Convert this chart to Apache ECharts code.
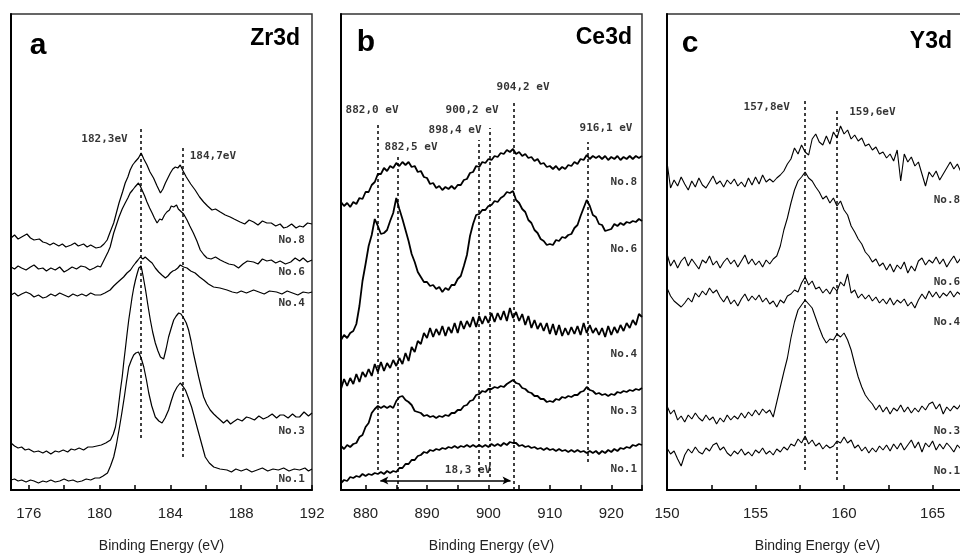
<!DOCTYPE html>
<html>
<head>
<meta charset="utf-8">
<script src="https://cdn.jsdelivr.net/npm/echarts@6/dist/echarts.min.js"></script>
<style>
  html, body { margin: 0; padding: 0; background: #fff; }
  #chart { width: 960px; height: 556px; }
</style>
</head>
<body>
<div id="chart"></div>
<script>
// ---------- Zr3d spectra: [binding energy (eV), intensity (a.u.)] ----------
const zr3d_no8 = [[175.0,252],[175.2,255],[175.4,251],[175.6,253],[175.9,256],[176.1,252],[176.3,250],[176.6,251],[176.8,248],[177.0,247],[177.2,245],[177.4,247],[177.7,244],[177.9,246],[178.1,243],[178.4,245],[178.6,247],[178.8,244],[179.1,246],[179.3,243],[179.5,245],[179.8,242],[180.06,243],[180.25,246],[180.43,250],[180.6,258],[180.8,267],[180.95,277],[181.1,287],[181.3,298],[181.45,307],[181.6,313],[181.73,320],[181.87,325],[182.0,328],[182.1,327],[182.2,332],[182.35,337],[182.5,331],[182.68,325],[182.85,318],[183.05,312],[183.25,304],[183.44,297],[183.58,301],[183.72,307],[183.86,312],[184.0,317],[184.14,321],[184.28,323],[184.42,322],[184.56,325],[184.72,319],[184.9,313],[185.15,306],[185.4,300],[185.65,293],[185.88,288],[186.1,284],[186.35,280],[186.55,281],[186.82,278],[187.1,275],[187.38,273],[187.6,271],[187.94,268],[188.2,266],[188.45,270],[188.7,268],[188.95,265],[189.2,269],[189.45,267],[189.7,267],[189.95,264],[190.2,266],[190.4,262],[190.6,263],[190.85,266],[191.1,262],[191.3,264],[191.5,263],[191.75,267],[192.0,266]];
const zr3d_no6 = [[175.0,223],[175.2,221],[175.4,224],[175.6,222],[175.85,220],[176.1,223],[176.3,225],[176.55,221],[176.8,222],[177.0,219],[177.25,222],[177.5,220],[177.75,223],[178.0,218],[178.2,220],[178.45,223],[178.7,221],[178.95,224],[179.2,223],[179.45,220],[179.7,222],[179.9,224],[180.06,223],[180.2,228],[180.34,233],[180.48,238],[180.6,243],[180.7,250],[180.8,257],[180.95,265],[181.1,273],[181.28,281],[181.45,287],[181.6,292],[181.73,297],[181.87,300],[182.0,303],[182.1,305],[182.2,307],[182.3,304],[182.4,300],[182.55,294],[182.68,288],[182.83,282],[182.97,277],[183.1,272],[183.25,267],[183.4,271],[183.53,270],[183.67,275],[183.8,278],[183.95,280],[184.05,284],[184.19,283],[184.35,285],[184.45,281],[184.56,280],[184.75,276],[184.94,270],[185.1,264],[185.3,257],[185.5,249],[185.69,240],[185.9,235],[186.07,232],[186.3,231],[186.55,233],[186.82,230],[187.05,228],[187.3,226],[187.6,225],[187.85,222],[188.1,226],[188.35,229],[188.7,228],[188.95,226],[189.2,231],[189.45,229],[189.7,230],[189.95,227],[190.2,229],[190.5,226],[190.8,228],[191.05,232],[191.3,229],[191.5,232],[191.75,228],[192.0,230]];
const zr3d_no4 = [[175.0,195],[175.2,197],[175.4,194],[175.6,196],[175.85,198],[176.1,196],[176.3,193],[176.55,195],[176.8,192],[177.0,193],[177.25,196],[177.5,194],[177.75,197],[178.0,195],[178.25,193],[178.5,196],[178.75,194],[179.0,196],[179.25,194],[179.5,197],[179.75,195],[180.06,195],[180.3,197],[180.6,200],[180.8,204],[180.98,207],[181.17,210],[181.36,213],[181.55,217],[181.75,220],[181.9,224],[182.03,227],[182.17,230],[182.3,233],[182.45,231],[182.58,233],[182.68,232],[182.83,229],[182.97,227],[183.15,222],[183.34,218],[183.52,215],[183.72,212],[183.86,214],[184.0,217],[184.14,219],[184.28,220],[184.42,222],[184.56,225],[184.75,223],[184.94,222],[185.15,219],[185.4,217],[185.65,213],[185.88,210],[186.15,206],[186.44,203],[186.8,202],[187.2,200],[187.5,198],[187.76,197],[188.0,199],[188.3,197],[188.7,200],[189.0,198],[189.3,196],[189.6,199],[190.0,198],[190.3,196],[190.6,199],[190.9,197],[191.2,195],[191.5,198],[191.8,197],[192.0,198]];
const zr3d_no3 = [[175.0,47],[175.2,44],[175.4,42],[175.6,43],[175.8,40],[176.0,41],[176.3,38],[176.55,39],[176.8,37],[177.0,39],[177.25,36],[177.5,39],[177.7,38],[177.95,40],[178.2,38],[178.4,41],[178.6,40],[178.85,42],[179.1,40],[179.35,43],[179.6,43],[179.85,44],[180.1,45],[180.35,47],[180.62,50],[180.78,56],[180.9,63],[181.0,74],[181.09,87],[181.18,100],[181.28,113],[181.37,128],[181.47,143],[181.56,157],[181.65,170],[181.75,182],[181.84,193],[181.93,202],[182.03,210],[182.12,216],[182.22,222],[182.35,224],[182.47,213],[182.6,200],[182.73,185],[182.87,170],[183.0,158],[183.15,147],[183.3,139],[183.44,133],[183.62,131],[183.76,141],[183.9,153],[184.05,162],[184.19,170],[184.33,174],[184.47,177],[184.6,176],[184.75,172],[184.9,167],[185.03,160],[185.17,149],[185.3,137],[185.45,125],[185.6,113],[185.75,102],[185.88,93],[186.05,86],[186.25,80],[186.45,76],[186.63,73],[186.82,70],[187.0,67],[187.2,70],[187.4,66],[187.55,68],[187.8,71],[188.05,69],[188.3,73],[188.5,72],[188.75,70],[189.0,74],[189.25,71],[189.5,73],[189.75,76],[190.0,72],[190.2,75],[190.4,75],[190.65,72],[190.9,76],[191.1,73],[191.3,73],[191.55,78],[191.8,74],[192.0,77]];
const zr3d_no1 = [[175.0,10],[175.2,11],[175.4,9],[175.6,10],[175.85,8],[176.1,10],[176.3,9],[176.55,7],[176.8,9],[177.0,8],[177.25,10],[177.5,8],[177.75,9],[178.0,11],[178.25,9],[178.5,10],[178.75,8],[179.0,9],[179.25,11],[179.5,10],[179.75,12],[180.0,12],[180.2,14],[180.45,17],[180.62,24],[180.8,33],[180.95,45],[181.1,60],[181.25,76],[181.4,93],[181.52,108],[181.65,123],[181.8,130],[181.93,135],[182.05,137],[182.2,138],[182.35,132],[182.5,123],[182.65,110],[182.78,97],[182.95,84],[183.15,73],[183.35,69],[183.53,67],[183.7,72],[183.9,80],[184.05,89],[184.2,97],[184.38,103],[184.56,107],[184.7,104],[184.85,100],[185.0,93],[185.2,83],[185.4,70],[185.6,57],[185.8,44],[185.97,33],[186.2,27],[186.45,23],[186.8,21],[187.2,20],[187.45,18],[187.7,21],[188.0,19],[188.3,21],[188.6,18],[188.9,20],[189.2,22],[189.5,19],[189.8,21],[190.1,20],[190.4,22],[190.7,19],[191.0,21],[191.3,20],[191.6,22],[191.8,19],[192.0,21]];

// ---------- Ce3d spectra: shared energy grid (eV) and intensities (a.u.) ----------
const ce3d_energy = [
  876,876.5,877,877.5,878,878.5,879,879.5,880,880.5,
  881,881.5,882,882.5,883,883.5,884,884.5,885,885.5,
  886,886.5,887,887.5,888,888.5,889,889.5,890,890.5,
  891,891.5,892,892.5,893,893.5,894,894.5,895,895.5,
  896,896.5,897,897.5,898,898.5,899,899.5,900,900.5,
  901,901.5,902,902.5,903,903.5,904,904.5,905,905.5,
  906,906.5,907,907.5,908,908.5,909,909.5,910,910.5,
  911,911.5,912,912.5,913,913.5,914,914.5,915,915.5,
  916,916.5,917,917.5,918,918.5,919,919.5,920,920.5,
  921,921.5,922,922.5,923,923.5,924,924.5,925];
const ce3d_no8 = [
  288,284,287,283,288,286,292,291,298,298,
  305,308,316,316,322,319,324,322,327,324,
  328,325,328,323,324,318,319,313,312,306,
  307,302,304,300,303,301,304,301,305,305,
  310,311,317,318,324,323,328,327,331,330,
  334,333,337,336,340,338,341,336,338,334,
  336,332,333,329,331,326,327,323,324,321,
  324,320,323,321,325,324,328,326,331,330,
  335,331,334,332,334,331,334,330,333,331,
  334,330,333,331,334,331,334,332,334];
const ce3d_no6 = [
  150,155,152,157,159,166,184,209,226,244,
  255,271,264,256,257,260,269,277,292,281,
  271,260,249,236,228,218,213,208,208,204,
  205,201,203,198,202,200,205,205,211,214,
  224,235,254,266,275,276,280,280,284,285,
  289,288,292,294,298,297,299,290,287,281,
  278,270,267,260,257,251,249,245,246,245,
  250,249,253,252,255,256,262,265,274,282,
  290,284,275,273,266,265,259,260,261,266,
  264,267,265,268,267,269,268,271,269];
const ce3d_no4 = [
  101,111,104,112,106,116,108,118,113,121,
  114,126,118,128,119,127,122,130,124,132,
  126,137,129,143,138,149,146,157,152,162,
  153,161,155,164,154,163,157,167,157,169,
  161,169,163,173,163,174,166,174,167,177,
  168,177,170,179,169,182,172,178,169,176,
  165,174,162,170,161,167,159,167,156,166,
  155,165,154,162,155,163,156,164,155,167,
  157,165,157,162,155,162,153,164,155,163,
  157,165,159,167,162,170,165,176,173];
const ce3d_no3 = [
  44,41,45,43,46,47,53,55,63,67,
  77,81,84,82,84,82,84,82,89,93,
  94,90,88,85,79,78,77,74,75,73,
  74,72,74,73,75,74,77,77,80,80,
  84,85,89,90,95,96,99,98,101,101,
  103,102,104,103,106,108,110,107,106,102,
  101,98,97,94,94,91,91,88,89,88,
  91,90,93,92,94,93,95,95,98,99,
  103,100,99,96,97,95,96,94,96,95,
  98,97,99,98,100,99,101,100,102];
const ce3d_no1 = [
  7,10,9,13,12,14,13,16,14,16,
  15,17,16,18,16,19,17,19,18,22,
  22,26,26,30,30,34,35,38,37,40,
  39,41,40,42,41,43,42,44,42,44,
  43,45,43,45,43,45,43,45,43,46,
  44,46,44,47,45,48,47,47,44,45,
  43,44,42,43,41,42,40,42,40,41,
  39,41,39,40,38,40,38,40,38,39,
  37,39,37,39,36,39,37,40,38,41,
  39,42,41,43,42,45,44,46,45];

// ---------- Y3d spectra: shared energy grid (eV) and intensities (a.u.) ----------
const y3d_energy = [
  150,150.2,150.4,150.6,150.8,151,151.2,151.4,151.6,151.8,
  152,152.2,152.4,152.6,152.8,153,153.2,153.4,153.6,153.8,
  154,154.2,154.4,154.6,154.8,155,155.2,155.4,155.6,155.8,
  156,156.2,156.4,156.6,156.8,157,157.2,157.4,157.6,157.8,
  158,158.2,158.4,158.6,158.8,159,159.2,159.4,159.6,159.8,
  160,160.2,160.4,160.6,160.8,161,161.2,161.4,161.6,161.8,
  162,162.2,162.4,162.6,162.8,163,163.2,163.4,163.6,163.8,
  164,164.2,164.4,164.6,164.8,165,165.2,165.4,165.6,165.8,
  166,166.2,166.4,166.6,166.8,167];
const y3d_no8 = [
  328,302,310,304,313,306,300,309,303,312,
  305,302,308,314,306,309,303,310,306,311,
  304,308,303,312,305,313,306,315,308,311,
  308,312,315,319,326,331,342,336,345,338,
  335,351,356,348,345,354,346,358,352,364,
  356,360,351,355,349,352,344,346,340,343,
  336,338,332,336,329,340,309,336,328,333,
  324,328,316,304,318,313,319,310,316,322,
  328,321,326,318,324,320];
const y3d_no6 = [
  236,224,230,222,229,233,224,231,226,221,
  230,227,234,225,229,222,228,232,226,230,
  223,229,235,226,231,225,229,223,230,226,
  231,234,244,260,272,287,300,309,313,318,
  312,309,303,298,291,294,287,292,284,289,
  280,275,264,258,251,246,238,234,228,231,
  224,227,220,226,218,225,221,228,217,224,
  219,229,232,225,230,227,233,226,231,223,
  229,234,227,232,226,231];
const y3d_no4 = [
  202,194,189,186,183,187,192,188,197,193,
  199,195,202,197,200,193,188,194,186,190,
  184,191,196,189,194,190,195,188,192,186,
  189,183,190,187,194,196,200,198,207,213,
  205,209,201,203,197,201,196,203,199,208,
  204,216,197,200,192,196,191,195,189,193,
  187,191,186,192,185,190,187,191,184,188,
  182,190,196,191,199,193,198,192,197,194,
  199,193,198,195,200,196];
const y3d_no3 = [
  84,76,80,70,74,68,75,71,77,72,
  69,75,70,73,66,72,68,75,70,74,
  71,77,72,78,74,80,75,81,77,80,
  73,88,103,118,132,152,168,180,185,190,
  186,182,172,162,153,147,151,150,156,153,
  157,150,140,126,113,103,95,90,86,80,
  85,78,83,76,82,79,85,78,83,77,
  82,78,84,80,86,88,81,86,76,83,
  79,84,81,86,80,84];
const y3d_no1 = [
  42,36,39,31,24,35,41,37,43,38,
  36,42,39,45,47,40,43,37,34,39,
  36,41,35,38,34,40,37,42,36,39,
  35,41,38,43,40,46,44,51,47,54,
  46,50,44,47,41,45,42,44,49,47,
  53,47,50,42,45,39,43,37,42,38,
  44,40,45,39,46,41,47,40,45,50,
  42,48,38,47,43,49,40,46,41,47,
  43,38,45,41,46,43];

// ---------- sample names, peak positions and axis ticks ----------
const sample_names = ['No.8', 'No.6', 'No.4', 'No.3', 'No.1'];
const zr3d_peaks = [182.3, 184.7];
const zr3d_peak_labels = ['182,3eV', '184,7eV'];
const ce3d_peaks = [882.0, 885.2, 898.4, 900.2, 904.2, 916.1];
const ce3d_peak_labels = ['882,0 eV', '882,5 eV', '898,4 eV', '900,2 eV', '904,2 eV', '916,1 eV'];
const ce3d_splitting = 18.3;
const y3d_peaks = [157.8, 159.6];
const y3d_peak_labels = ['157,8eV', '159,6eV'];

const zr3d_tick_labels = [176, 180, 184, 188, 192];
const zr3d_minor_ticks = [176, 178, 180, 182, 184, 186, 188, 190, 192];
const ce3d_tick_labels = [880, 890, 900, 910, 920];
const ce3d_minor_ticks = [880, 885, 890, 895, 900, 905, 910, 915, 920, 925];
const y3d_tick_labels = [150, 155, 160, 165];
const y3d_minor_ticks = [150, 152.5, 155, 157.5, 160, 162.5, 165];

// ---------- chart ----------
const zip = (xs, ys) => xs.map((x, i) => [x, ys[i]]);
const spectra = [
  [zr3d_no8, zr3d_no6, zr3d_no4, zr3d_no3, zr3d_no1],
  [zip(ce3d_energy, ce3d_no8), zip(ce3d_energy, ce3d_no6), zip(ce3d_energy, ce3d_no4),
   zip(ce3d_energy, ce3d_no3), zip(ce3d_energy, ce3d_no1)],
  [zip(y3d_energy, y3d_no8), zip(y3d_energy, y3d_no6), zip(y3d_energy, y3d_no4),
   zip(y3d_energy, y3d_no3), zip(y3d_energy, y3d_no1)]
];

const FONT = '"Liberation Sans", Arial, sans-serif';
const SMALL = { fontFamily: '"DejaVu Sans Mono", monospace', fontWeight: 'bold', fontSize: 11, color: '#000' };

const panels = [
  { min: 175, max: 192, ticks: zr3d_minor_ticks, labels: zr3d_tick_labels, left: 11, width: 1.2,
    nameAt: 191.6, nameY: [250, 218, 187, 59, 11],
    lines: [[zr3d_peaks[0], 52, 363], [zr3d_peaks[1], 33, 345]],
    texts: [[180.28, 351, zr3d_peak_labels[0]], [186.4, 334, zr3d_peak_labels[1]]] },
  { min: 876, max: 925, ticks: ce3d_minor_ticks, labels: ce3d_tick_labels, left: 341, width: 1.8,
    nameAt: 924.2, nameY: [308, 241, 136, 79, 21],
    lines: [[ce3d_peaks[0], 20, 368], [ce3d_peaks[1], 0, 335], [ce3d_peaks[2], 13, 350],
            [ce3d_peaks[3], 13, 362], [ce3d_peaks[4], 0, 390], [ce3d_peaks[5], 28, 348]],
    texts: [[881.05, 380, ce3d_peak_labels[0]], [887.4, 343, ce3d_peak_labels[1]],
            [894.56, 360, ce3d_peak_labels[2]], [897.33, 380, ce3d_peak_labels[3]],
            [905.63, 403, ce3d_peak_labels[4]], [919.14, 362, ce3d_peak_labels[5]],
            [896.67, 20, ce3d_splitting.toFixed(1).replace('.', ',') + ' eV']] },
  { min: 150, max: 167, ticks: y3d_minor_ticks, labels: y3d_tick_labels, left: 667, width: 1.1,
    nameAt: 166.56, nameY: [290, 208, 168, 59, 19],
    lines: [[y3d_peaks[0], 20, 392], [y3d_peaks[1], 10, 382]],
    texts: [[155.63, 383, y3d_peak_labels[0]], [161.6, 378, y3d_peak_labels[1]]] }
];

const grid = [], xAxis = [], yAxis = [], series = [];
panels.forEach((p, i) => {
  grid.push({ left: p.left, top: 14, width: 301, height: 476, show: true,
              outerBoundsMode: 'none', containLabel: false,
              borderColor: '#333', borderWidth: 1.5, backgroundColor: 'transparent' });
  xAxis.push({
    type: 'value', gridIndex: i, min: p.min, max: p.max,
    name: 'Binding Energy (eV)', nameLocation: 'middle', nameGap: 49,
    nameTextStyle: { fontFamily: FONT, fontSize: 14, color: '#222' },
    axisLine: { show: true, lineStyle: { color: '#000', width: 2 } },
    axisTick: { show: true, inside: true, length: 5, lineStyle: { color: '#000', width: 1.5 },
                customValues: p.ticks },
    axisLabel: { show: true, margin: 16, fontFamily: FONT, fontSize: 15, color: '#222',
                 customValues: p.labels },
    splitLine: { show: false }
  });
  yAxis.push({
    type: 'value', gridIndex: i, min: 0, max: 476,
    axisLine: { show: true, lineStyle: { color: '#000', width: 2 } },
    axisTick: { show: false }, axisLabel: { show: false }, splitLine: { show: false }
  });
  spectra[i].forEach((d, k) => {
    series.push({
      type: 'line', name: sample_names[k], xAxisIndex: i, yAxisIndex: i, data: d,
      symbol: 'none', silent: true, animation: false, z: 3,
      lineStyle: { color: '#000', width: p.width }
    });
  });
  // sample names at the right end of each spectrum
  series.push({
    type: 'scatter', xAxisIndex: i, yAxisIndex: i, symbolSize: 0, silent: true, animation: false, z: 5,
    data: sample_names.map((n, k) => ({ name: n, value: [p.nameAt, p.nameY[k]] })),
    label: Object.assign({ show: true, position: 'left', distance: 0, formatter: '{b}' }, SMALL)
  });
  // peak labels
  series.push({
    type: 'scatter', xAxisIndex: i, yAxisIndex: i, symbolSize: 0, silent: true, animation: false, z: 5,
    data: p.texts.map(t => ({ name: t[2], value: [t[0], t[1]] })),
    label: Object.assign({ show: true, position: 'inside', formatter: '{b}' }, SMALL),
    markLine: {
      silent: true, animation: false, symbol: ['none', 'none'], label: { show: false },
      lineStyle: { color: '#000', width: 1.5, type: [3, 3] },
      data: p.lines.map(l => [{ coord: [l[0], l[1]] }, { coord: [l[0], l[2]] }])
    }
  });
});

// spin-orbit splitting arrow in the Ce3d panel
series.push({
  type: 'line', xAxisIndex: 1, yAxisIndex: 1, data: [], silent: true, animation: false,
  markLine: {
    silent: true, animation: false, symbol: ['arrow', 'arrow'], symbolSize: [6, 8],
    label: { show: false }, lineStyle: { color: '#000', width: 1.5, type: 'solid' },
    data: [[{ coord: [882.4, 9.5] }, { coord: [903.6, 9.5] }]]
  }
});

const heading = (x, y, text, size, align) => ({
  type: 'text', x, y, z: 10, silent: true,
  style: { text, fill: '#000', fontFamily: FONT, fontWeight: 'bold', fontSize: size,
           align, textAlign: align, verticalAlign: 'middle', textVerticalAlign: 'middle' }
});

const chart = echarts.init(document.getElementById('chart'), null, { renderer: 'canvas' });
chart.setOption({
  backgroundColor: '#fff',
  animation: false,
  grid, xAxis, yAxis, series,
  graphic: [
    heading(38, 46, 'a', 30, 'center'),
    heading(300, 39, 'Zr3d', 23, 'right'),
    heading(366, 43, 'b', 30, 'center'),
    heading(632, 38, 'Ce3d', 23, 'right'),
    heading(690, 44, 'c', 30, 'center'),
    heading(952, 42, 'Y3d', 23, 'right')
  ]
});
</script>
</body>
</html>
